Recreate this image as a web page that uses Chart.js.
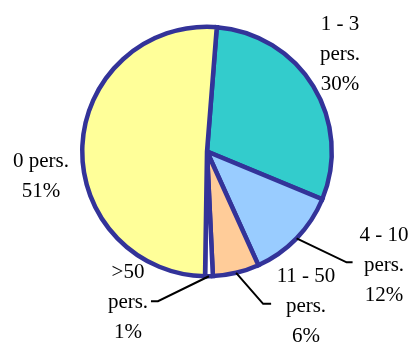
<!DOCTYPE html>
<html>
<head>
<meta charset="utf-8">
<script src="https://cdn.jsdelivr.net/npm/chart.js@4/dist/chart.umd.min.js"></script>
<style>
  html, body { margin: 0; padding: 0; background: #ffffff; }
  #wrap { width: 412px; height: 343px; }
</style>
</head>
<body>
<div id="wrap"><canvas id="pie" width="412" height="343"></canvas></div>
<script>
// Company size classes (number of employees) and their shares in percent
const categories = ['1 - 3 pers.', '4 - 10 pers.', '11 - 50 pers.', '>50 pers.', '0 pers.'];
const shares = [30, 12, 6, 1, 51];
const labelLines = [
  ['1 - 3', 'pers.', '30%'],
  ['4 - 10', 'pers.', '12%'],
  ['11 - 50', 'pers.', '6%'],
  ['>50', 'pers.', '1%'],
  ['0 pers.', '51%']
];
const sliceColors = ['#33CCCC', '#99CCFF', '#FFCC99', '#FFFFFF', '#FFFF99'];

// Where each label block sits (centre x, first baseline y) and, for the
// small slices, the elbow / end of the leader line relative to the slice edge.
const labelLayout = [
  { x: 340, y: 30 },
  { x: 384, y: 241, leader: [[50, 24], [56, 24]] },
  { x: 306, y: 282, leader: [[27, 31], [35, 31]] },
  { x: 128, y: 278, leader: [[-51, 25], [-58, 25]] },
  { x: 41, y: 167 }
];

const LABEL_FONT = '21px "Liberation Serif", "DejaVu Serif", serif';

const pieLabels = {
  id: 'pieLabels',
  afterDraw(chart) {
    const ctx = chart.ctx;
    const meta = chart.getDatasetMeta(0);
    ctx.save();
    meta.data.forEach((arc, i) => {
      const L = labelLayout[i];
      if (L.leader) {
        const mid = (arc.startAngle + arc.endAngle) / 2;
        const sx = arc.x + Math.cos(mid) * arc.outerRadius;
        const sy = arc.y + Math.sin(mid) * arc.outerRadius;
        ctx.beginPath();
        ctx.moveTo(sx, sy);
        L.leader.forEach(p => ctx.lineTo(sx + p[0], sy + p[1]));
        ctx.strokeStyle = '#000000';
        ctx.lineWidth = 2;
        ctx.stroke();
      }
      ctx.fillStyle = '#000000';
      ctx.font = LABEL_FONT;
      ctx.textAlign = 'center';
      ctx.textBaseline = 'alphabetic';
      labelLines[i].forEach((t, k) => ctx.fillText(t, L.x, L.y + k * 30));
    });
    ctx.restore();
  }
};

new Chart(document.getElementById('pie'), {
  type: 'pie',
  data: {
    labels: categories,
    datasets: [{
      data: shares,
      backgroundColor: sliceColors,
      borderColor: '#333399',
      borderWidth: 4.5,
      hoverBorderWidth: 4.5,
      hoverOffset: 0,
      borderJoinStyle: 'miter'
    }]
  },
  options: {
    responsive: false,
    animation: false,
    rotation: 4.5,
    layout: { padding: { left: 80, right: 78, top: 24.5, bottom: 64.5 } },
    plugins: {
      legend: { display: false },
      tooltip: { enabled: false }
    },
    events: []
  },
  plugins: [pieLabels]
});
</script>
</body>
</html>
